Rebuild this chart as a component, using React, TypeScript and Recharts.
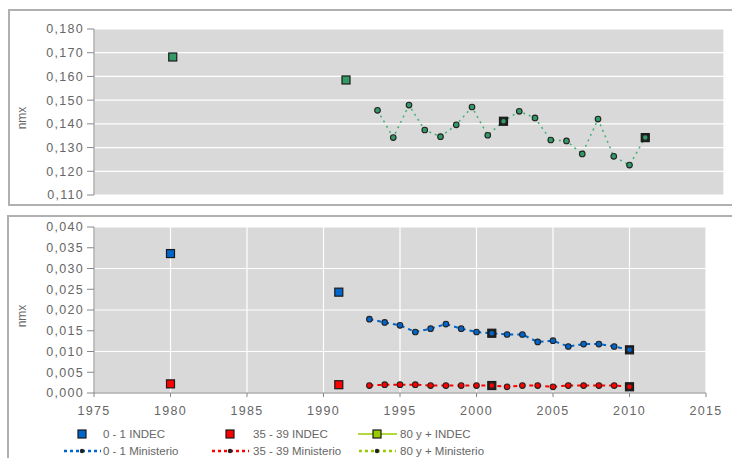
import { ComposedChart, Scatter, Line, XAxis, YAxis, CartesianGrid } from 'recharts'

// years
const xTicks = [1975, 1980, 1985, 1990, 1995, 2000, 2005, 2010, 2015]
const indecYears = [1980, 1991, 2001, 2010]
const ministerioYears = [1993, 1994, 1995, 1996, 1997, 1998, 1999, 2000, 2001, 2002, 2003, 2004, 2005, 2006, 2007, 2008, 2009, 2010]

// 80 y + (top panel)
const topTicks = [0.11, 0.12, 0.13, 0.14, 0.15, 0.16, 0.17, 0.18]
const indec80 = [0.1682, 0.1585, 0.1411, 0.1342]
const ministerio80 = [0.1457, 0.1342, 0.1479, 0.1374, 0.1346, 0.1396, 0.1471, 0.1352, 0.1411, 0.1453, 0.1425, 0.1332, 0.1328, 0.1273, 0.142, 0.1263, 0.1226, 0.1342]

// 0 - 1 and 35 - 39 (bottom panel)
const bottomTicks = [0, 0.005, 0.01, 0.015, 0.02, 0.025, 0.03, 0.035, 0.04]
const indec01 = [0.0336, 0.0243, 0.0144, 0.0104]
const ministerio01 = [0.0178, 0.017, 0.0163, 0.0147, 0.0155, 0.0166, 0.0155, 0.0147, 0.0144, 0.0141, 0.0141, 0.0123, 0.0126, 0.0112, 0.0118, 0.0118, 0.0112, 0.0104]
const indec3539 = [0.0022, 0.002, 0.0018, 0.0015]
const ministerio3539 = [0.0018, 0.002, 0.002, 0.002, 0.0018, 0.0018, 0.0018, 0.0018, 0.0018, 0.0015, 0.0018, 0.0018, 0.0015, 0.0018, 0.0018, 0.0018, 0.0018, 0.0015]

const BLUE = '#0066cc'
const RED = '#ff0000'
const LIME = '#99cc00'
const GREEN = '#339966'

const rows = (xs: number[], ys: number[]) => xs.map((year, i) => ({ year, value: ys[i] }))

const fmt = (v: number) => v.toFixed(3).replace('.', ',')

const FONT = '"Liberation Sans", Arial, sans-serif'
const tickStyle = { fill: '#666', fontSize: 12.5, fontFamily: FONT, letterSpacing: 1.3 }

const makeSquare = (color: string) => (props: any) => {
  const { cx, cy, payload } = props
  const dark = ministerioYears.includes(payload.year)
  return <rect x={cx - 4} y={cy - 4} width={8} height={8} fill={dark ? '#1f1f1f' : color} stroke="#1a1a1a" strokeWidth={1.2} />
}

const dotStyle = (fill: string) => ({ r: 2.8, stroke: '#222', strokeWidth: 1.1, fill, strokeDasharray: 'none' })

const yLabel = (props: any) => {
  const vb = props.viewBox
  const cy = vb.y + vb.height / 2 + 6
  return (
    <text x={22} y={cy} transform={`rotate(-90, 22, ${cy})`} textAnchor="middle" dominantBaseline="central" fill="#666" fontSize={12} fontFamily={FONT}>
      nmx
    </text>
  )
}

const legendItems = [
  { name: '0 - 1 INDEC', color: BLUE, kind: 'square' },
  { name: '35 - 39 INDEC', color: RED, kind: 'square' },
  { name: '80 y + INDEC', color: LIME, kind: 'lineSquare' },
  { name: '0 - 1 Ministerio', color: BLUE, kind: 'dotted' },
  { name: '35 - 39 Ministerio', color: RED, kind: 'dotted' },
  { name: '80 y + Ministerio', color: LIME, kind: 'dotted' },
]
const iconX = [82, 230, 377]
const textX = [103, 253, 400]
const rowY = [16, 33]

function LegendBox() {
  return (
    <svg width={732} height={40} style={{ position: 'absolute', left: 0, top: 418 }}>
      {legendItems.map((it, i) => {
        const col = i % 3
        const y = rowY[Math.floor(i / 3)]
        const cx = iconX[col]
        return (
          <g key={it.name}>
            {it.kind === 'square' && <rect x={cx - 4} y={y - 4} width={8} height={8} fill={it.color} stroke="#1a1a1a" strokeWidth={1.2} />}
            {it.kind === 'lineSquare' && (
              <>
                <line x1={cx - 19} x2={cx + 20} y1={y} y2={y} stroke={it.color} strokeWidth={1.5} />
                <rect x={cx - 4} y={y - 4} width={8} height={8} fill={it.color} stroke="#1a1a1a" strokeWidth={1.2} />
              </>
            )}
            {it.kind === 'dotted' && (
              <>
                <line x1={cx - 18} x2={cx + 19} y1={y} y2={y} stroke={it.color} strokeWidth={2.5} strokeDasharray="3 3" />
                <circle cx={cx} cy={y} r={2.2} fill="#222" />
              </>
            )}
            <text x={textX[col]} y={y} dominantBaseline="central" fill="#666" fontSize={11.5} fontFamily={FONT}>
              {it.name}
            </text>
          </g>
        )
      })}
    </svg>
  )
}

const frame = (top: number, left: number, height: number) => ({
  position: 'absolute' as const,
  left,
  top,
  width: 760,
  height,
  border: '2px solid #b0b0b0',
  boxSizing: 'border-box' as const,
})

export default function App() {
  return (
    <div style={{ position: 'absolute', left: 0, top: 0, width: 732, height: 458, overflow: 'hidden', background: '#fff' }}>
      <div style={frame(9, 8, 197)} />
      <div style={frame(215, 7, 260)} />

      <div style={{ position: 'absolute', left: 0, top: 0 }}>
        <ComposedChart width={732} height={205} margin={{ top: 29, right: 8, bottom: 0, left: 0 }}>
          <CartesianGrid stroke="#fff" strokeWidth={1.2} fill="#d9d9d9" />
          <XAxis type="number" dataKey="year" domain={[1975, 2015]} ticks={xTicks} tick={false} tickLine={false} axisLine={false} height={10} />
          <YAxis
            type="number"
            dataKey="value"
            domain={[0.11, 0.18]}
            ticks={topTicks}
            tickFormatter={fmt}
            width={94}
            tickSize={7}
            tickMargin={3}
            tick={tickStyle}
            axisLine={{ stroke: '#888' }}
            tickLine={{ stroke: '#888' }}
            label={yLabel}
          />
          <Scatter name="80 y + INDEC" data={rows(indecYears, indec80)} dataKey="value" shape={makeSquare(GREEN)} isAnimationActive={false} />
          <Line
            name="80 y + Ministerio"
            data={rows(ministerioYears, ministerio80)}
            dataKey="value"
            type="linear"
            stroke="#3cb371"
            strokeWidth={1.5}
            strokeDasharray="2 4"
            dot={dotStyle(GREEN)}
            activeDot={false}
            isAnimationActive={false}
          />
        </ComposedChart>
      </div>

      <div style={{ position: 'absolute', left: 0, top: 210 }}>
        <ComposedChart width={732} height={215} margin={{ top: 17, right: 26, bottom: 0, left: 0 }}>
          <CartesianGrid stroke="#fff" strokeWidth={1.2} fill="#d9d9d9" />
          <XAxis
            type="number"
            dataKey="year"
            domain={[1975, 2015]}
            ticks={xTicks}
            height={32}
            tickSize={4}
            tickMargin={9}
            tick={tickStyle}
            axisLine={{ stroke: '#888' }}
            tickLine={{ stroke: '#888' }}
          />
          <YAxis
            type="number"
            dataKey="value"
            domain={[0, 0.04]}
            ticks={bottomTicks}
            tickFormatter={fmt}
            width={94}
            tickSize={7}
            tickMargin={3}
            tick={tickStyle}
            axisLine={{ stroke: '#888' }}
            tickLine={{ stroke: '#888' }}
            label={yLabel}
          />
          <Scatter name="0 - 1 INDEC" data={rows(indecYears, indec01)} dataKey="value" shape={makeSquare(BLUE)} isAnimationActive={false} />
          <Scatter name="35 - 39 INDEC" data={rows(indecYears, indec3539)} dataKey="value" shape={makeSquare(RED)} isAnimationActive={false} />
          <Line
            name="0 - 1 Ministerio"
            data={rows(ministerioYears, ministerio01)}
            dataKey="value"
            type="linear"
            stroke={BLUE}
            strokeWidth={2}
            strokeDasharray="4 4"
            dot={dotStyle(BLUE)}
            activeDot={false}
            isAnimationActive={false}
          />
          <Line
            name="35 - 39 Ministerio"
            data={rows(ministerioYears, ministerio3539)}
            dataKey="value"
            type="linear"
            stroke={RED}
            strokeWidth={2}
            strokeDasharray="4 4"
            dot={dotStyle(RED)}
            activeDot={false}
            isAnimationActive={false}
          />
        </ComposedChart>
      </div>

      <LegendBox />
    </div>
  )
}
